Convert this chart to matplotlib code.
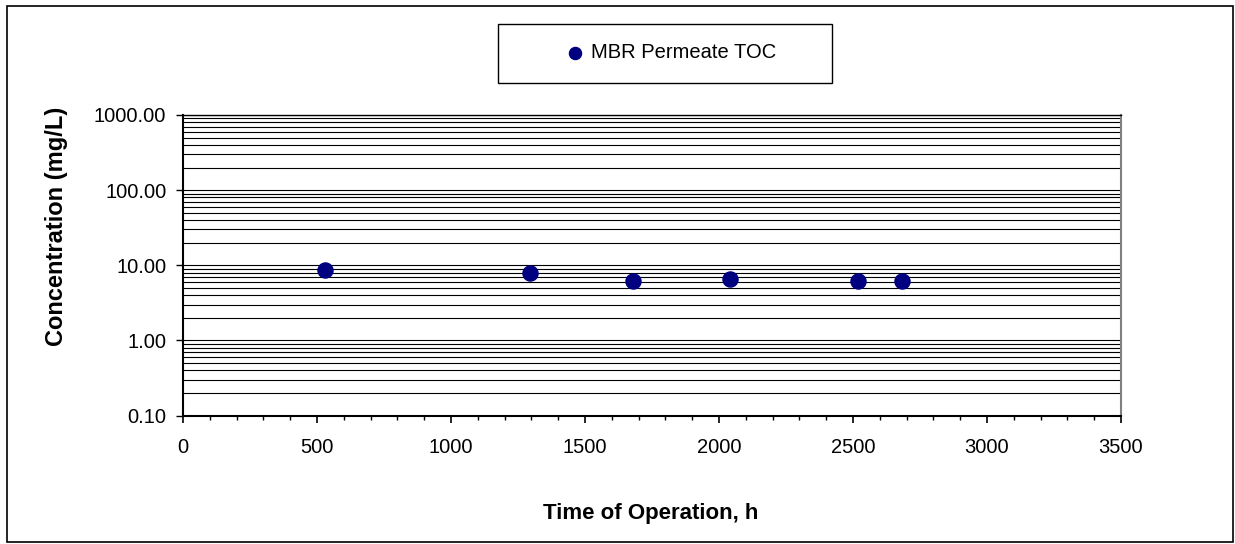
import matplotlib
matplotlib.use("Agg")
import matplotlib.pyplot as plt
from matplotlib.ticker import LogLocator, NullFormatter, FuncFormatter, MultipleLocator
from matplotlib.patches import Rectangle

plt.rcParams['font.family'] = ['Liberation Sans', 'DejaVu Sans']

time_h = [529, 1295, 1679, 2041, 2519, 2684]
toc_mgL = [8.74, 7.83, 6.18, 6.51, 6.18, 6.18]
series_name = "MBR Permeate TOC"
x_label = "Time of Operation, h"
y_label = "Concentration (mg/L)"

W, H = 1235, 544
fig = plt.figure(figsize=(W / 100, H / 100), dpi=100)
L, R, T, B = 183, 1121, 115, 415.5
ax = fig.add_axes([L / W, 1 - B / H, (R - L) / W, (B - T) / H])

ax.set_yscale('log')
ax.set_xlim(0, 3500)
ax.set_ylim(0.1, 1000)

ax.yaxis.set_major_locator(LogLocator(base=10, numticks=10))
ax.yaxis.set_minor_locator(LogLocator(base=10, subs=range(2, 10), numticks=20))
ax.yaxis.set_major_formatter(FuncFormatter(lambda v, p: f"{v:.2f}"))
ax.yaxis.set_minor_formatter(NullFormatter())
ax.grid(True, which='both', axis='y', color='black', linewidth=0.8)
ax.set_axisbelow(True)

ax.xaxis.set_major_locator(MultipleLocator(500))
ax.xaxis.set_minor_locator(MultipleLocator(100))

ax.tick_params(axis='y', which='major', direction='out', length=5, width=1, labelsize=14.5, pad=7)
ax.tick_params(axis='y', which='minor', length=0)
ax.tick_params(axis='x', which='major', direction='out', length=5, width=1.2, labelsize=14.5, pad=11)
ax.tick_params(axis='x', which='minor', direction='out', length=3, width=1)

for s in ['left', 'bottom']:
    ax.spines[s].set_linewidth(1.5)
    ax.spines[s].set_color('black')
ax.spines['top'].set_linewidth(1.0)
ax.spines['right'].set_color('#808080')
ax.spines['right'].set_linewidth(1.5)

ax.scatter(time_h, toc_mgL, s=118, color='#000080', zorder=3, label=series_name, clip_on=False)

ax.set_xlabel(x_label, fontsize=16, fontweight='bold')
ax.xaxis.set_label_coords((651 - L) / (R - L), (B - 514) / (B - T))
ax.xaxis.label.set_va('center')
ax.set_ylabel(y_label, fontsize=17, fontweight='bold')
ax.yaxis.set_label_coords((56 - L) / (R - L), (B - 226) / (B - T))
ax.yaxis.label.set_va('center')

# legend frame drawn separately, legend content centered inside it
fig.patches.append(Rectangle((498 / W, 1 - 83 / H), (832 - 498) / W, (83 - 24) / H,
                             transform=fig.transFigure, fill=False, edgecolor='black', linewidth=1.0))
leg = fig.legend(loc='center', bbox_to_anchor=(671 / W, 1 - 53 / H), frameon=False,
                 fontsize=14.5, markerscale=0.8, handletextpad=0.3, handlelength=1.0,
                 borderpad=0)

# outer border
fig.patches.append(Rectangle((7 / W, 2 / H), (1233 - 7) / W, (542 - 6) / H, transform=fig.transFigure,
                             fill=False, edgecolor='black', linewidth=1.2))

fig.savefig("out.png", dpi=100)
